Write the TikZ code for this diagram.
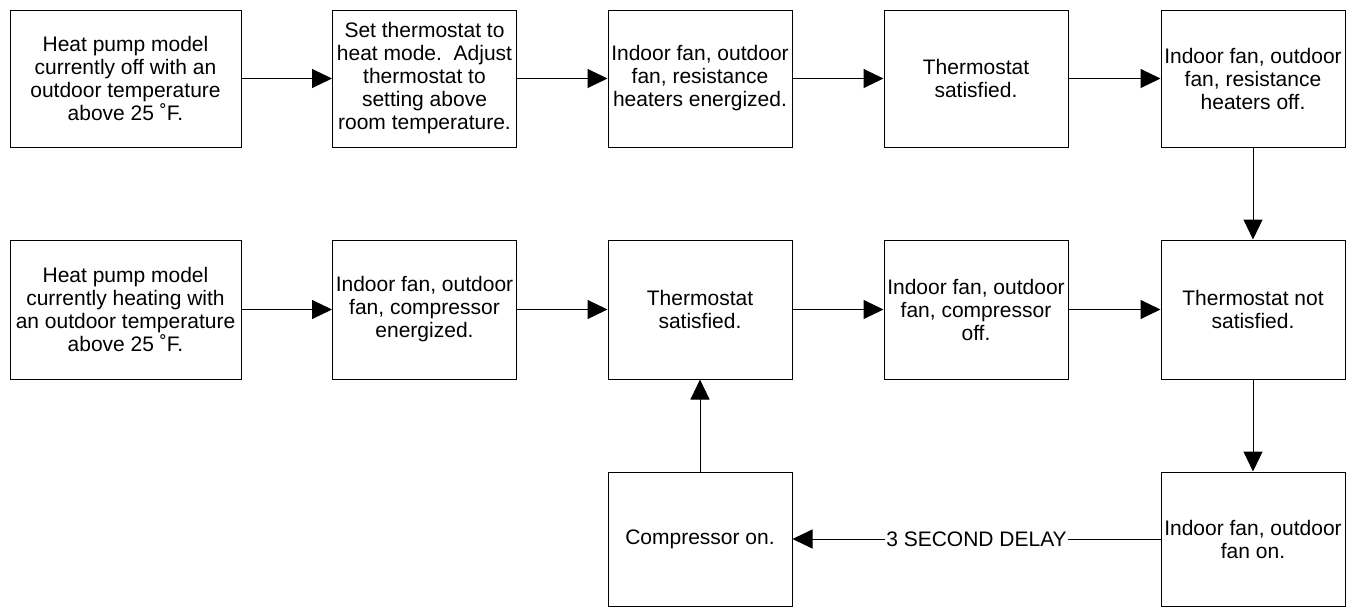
\documentclass[tikz,border=0pt]{standalone}
\usepackage{fontspec}
\setmainfont{Liberation Sans}
\usetikzlibrary{arrows.meta}
\begin{document}
\begin{tikzpicture}[x=1pt,y=-1pt,
  box/.style={draw=black,line width=1pt,align=center,inner sep=1pt,
    font=\fontsize{21pt}{23pt}\selectfont,text=black},
  wbox/.style={box,minimum width=231pt},
  nbox/.style={box,minimum width=184pt},
  rowa/.style={minimum height=137pt},
  rowb/.style={minimum height=139pt},
  rowc/.style={minimum height=134pt},
  conn/.style={draw=black,line width=1pt,-{Triangle[length=20pt,width=19pt]}},
  lbl/.style={fill=white,inner sep=1pt,font=\fontsize{21pt}{23pt}\selectfont}
]
\useasboundingbox (0,0) rectangle (1353,608);
% row 1
\node[wbox,rowa] (a1) at (125.5,78.5) {Heat pump model\\currently off with an\\outdoor temperature\\above 25 ˚F.};
\node[nbox,rowa] (a2) at (424.5,78.5) {Set thermostat to\\heat mode.\ \ Adjust\\thermostat to\\setting above\\room temperature.};
\node[nbox,rowa] (a3) at (700,78.5) {Indoor fan, outdoor\\fan, resistance\\heaters energized.};
\node[nbox,rowa] (a4) at (976,78.5) {Thermostat\\satisfied.};
\node[nbox,rowa] (a5) at (1253,78.5) {Indoor fan, outdoor\\fan, resistance\\heaters off.};
% row 2
\node[wbox,rowb] (b1) at (125.5,309.5) {Heat pump model\\currently heating with\\an outdoor temperature\\above 25 ˚F.};
\node[nbox,rowb] (b2) at (424.5,309.5) {Indoor fan, outdoor\\fan, compressor\\energized.};
\node[nbox,rowb] (b3) at (700,309.5) {Thermostat\\satisfied.};
\node[nbox,rowb] (b4) at (976,309.5) {Indoor fan, outdoor\\fan, compressor\\off.};
\node[nbox,rowb] (b5) at (1253,309.5) {Thermostat not\\satisfied.};
% row 3
\node[nbox,rowc] (c1) at (700,539) {Compressor on.};
\node[nbox,rowc] (c2) at (1253,539) {Indoor fan, outdoor\\fan on.};
% connectors
\draw[conn] (a1) -- (a2);
\draw[conn] (a2) -- (a3);
\draw[conn] (a3) -- (a4);
\draw[conn] (a4) -- (a5);
\draw[conn] (a5) -- (b5);
\draw[conn] (b1) -- (b2);
\draw[conn] (b2) -- (b3);
\draw[conn] (b3) -- (b4);
\draw[conn] (b4) -- (b5);
\draw[conn] (b5) -- (c2);
\draw[conn] (c2) -- node[lbl] {3 SECOND DELAY} (c1);
\draw[conn] (c1) -- (b3);
\end{tikzpicture}
\end{document}
